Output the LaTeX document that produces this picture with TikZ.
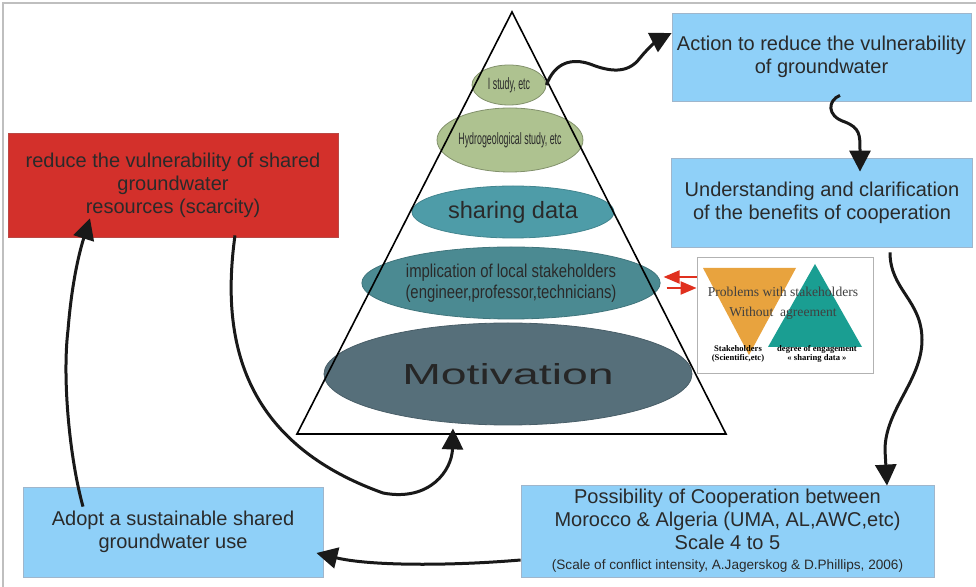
\documentclass[tikz,border=0pt]{standalone}
\usepackage{fontspec}
\setmainfont{Liberation Sans}
\newfontfamily\narrowsf{Liberation Sans}[FakeStretch=0.54]
\newfontfamily\semisf{Liberation Sans}[FakeStretch=0.8]
\newfontfamily\widesf{Liberation Sans}[FakeStretch=1.6]
\newfontfamily\timesf{Liberation Serif}
\usetikzlibrary{shapes.geometric,arrows.meta}
\definecolor{boxblue}{HTML}{8FD0F8}
\definecolor{boxedge}{HTML}{9FB6CC}
\definecolor{scarred}{HTML}{D3302B}
\definecolor{layergreen}{HTML}{AEC290}
\definecolor{layerteal}{HTML}{4E9CA8}
\definecolor{layerdeep}{HTML}{4B8A92}
\definecolor{layerslate}{HTML}{566F7A}
\definecolor{trorange}{HTML}{E8A33E}
\definecolor{trteal}{HTML}{1A9E92}
\definecolor{inkgray}{HTML}{2A2A2A}
\definecolor{arrowred}{HTML}{E0301E}
\begin{document}
\begin{tikzpicture}
    [x=0.5pt,y=-0.5pt,
    box/.style={draw=boxedge,fill=boxblue,inner sep=0pt,align=center,
      text=inkgray,font=\fontsize{10}{11.5}\selectfont},
    layer/.style={ellipse,inner sep=0pt,align=center,text=inkgray},
    flow/.style={line width=1.5pt,draw=black!90,
      -{Triangle[length=10.5pt,width=10.5pt]}},
    link/.style={line width=1pt,draw=arrowred,
      -{Triangle[length=8pt,width=6.5pt]}}]
    \useasboundingbox (0,0) rectangle (976,587);
    \draw[black!25,line width=0.8pt] (3,587) -- (3,3) -- (976,3);
    % pyramid layers
    \node[layer,fill=layergreen,draw=layergreen!75!black,minimum width=37pt,minimum height=20pt,
      font=\narrowsf\fontsize{8.2}{9}\selectfont] (study) at (509,85) {I study, etc};
    \node[layer,fill=layergreen,draw=layergreen!75!black,minimum width=66pt,minimum height=32pt,
      font=\narrowsf\fontsize{8.2}{9}\selectfont] (hydro) at (510,140) {Hydrogeological study, etc};
    \node[layer,fill=layerteal,draw=layerteal!85!black,minimum width=101pt,minimum height=26pt,
      font=\fontsize{11.8}{13}\selectfont] (sharing) at (513,212) {sharing data};
    \node[layer,fill=layerdeep,draw=layerdeep!85!black,minimum width=138pt,minimum height=36pt,
      font=\semisf\fontsize{9.3}{10.5}\selectfont] (locals) at (511,283)
      {implication of local stakeholders\\(engineer,professor,technicians)};
    \node[layer,fill=layerslate,draw=layerslate!85!black,minimum width=184pt,minimum height=51pt,
      font=\widesf\fontsize{14.5}{16}\selectfont,text=black!85] (motiv) at (508,374) {Motivation};
    \coordinate (apex) at (512,12);
    \coordinate (baseL) at (297,434);
    \coordinate (baseR) at (726,434);
    \draw[line width=0.8pt] (apex) -- (baseR) -- (baseL) -- cycle;
    % boxes
    \node[box,minimum width=149.5pt,minimum height=44pt] (action) at (821.5,57)
      {Action to reduce the vulnerability\\of groundwater};
    \node[box,minimum width=150.5pt,minimum height=44.5pt] (underst) at (822,202.5)
      {Understanding and clarification\\of the benefits of cooperation};
    \node[box,fill=scarred,draw=scarred!70!gray,minimum width=165pt,minimum height=52pt] (scarce) at (173,185)
      {reduce the vulnerability of shared\\groundwater\\resources (scarcity)};
    \node[box,minimum width=150pt,minimum height=45pt] (adopt) at (173,532)
      {Adopt a sustainable shared\\groundwater use};
    \node[box,minimum width=206.5pt,minimum height=46pt] (possib) at (727.5,531)
      {Possibility of Cooperation between\\Morocco \& Algeria (UMA, AL,AWC,etc)\\Scale 4 to 5\\[-1.5pt]
      {\fontsize{6.8}{8}\selectfont(Scale of conflict intensity, A.Jagerskog \& D.Phillips, 2006)}};
    % stakeholder inset
    \node[draw=black!30,fill=white,minimum width=88pt,minimum height=58pt] (inset) at (785,315) {};
    \fill[trorange] (703,268) -- (796,268) -- (749,355) -- cycle;
    \fill[trteal] (815,264) -- (862,347) -- (768,347) -- cycle;
    \node[font=\timesf\fontsize{6.8}{10}\selectfont,text=black!75,align=center] (problem) at (783,303)
      {Problems with stakeholders\\Without\ \ agreement};
    \node[font=\timesf\bfseries\fontsize{4.3}{4.8}\selectfont,align=center] (stake) at (738,354)
      {Stakeholders\\(Scientific,etc)};
    \node[font=\timesf\bfseries\fontsize{4.3}{4.8}\selectfont,align=center] (engage) at (817,354)
      {degree of engagement\\« sharing data »};
    \draw[link] ([yshift=19pt]inset.west) -- ([shift={(1.5pt,3pt)}]locals.east);
    \draw[link] ([shift={(3pt,-2.5pt)}]locals.east) -- ([yshift=13.5pt]inset.west);
    % flow arrows
    \draw[flow] (study.east) .. controls (555,62) and (572,58) .. (590,64)
      .. controls (610,72) and (628,74) .. (640,58)
      .. controls (648,48) and (658,40) .. ([yshift=12pt]action.west);
    \draw[flow] ([shift={(9.25pt,3pt)}]action.south) .. controls (828,100) and (826,116) .. (845,122)
      .. controls (860,128) and (860,135) .. (860,150) -- ([shift={(19pt,-7pt)}]underst.north);
    \draw[flow] ([shift={(34pt,-2.5pt)}]underst.south) .. controls (890,290) and (922,300) .. (922,340)
      .. controls (922,380) and (885,410) .. (885,450) -- ([shift={(79.75pt,-0.5pt)}]possib.north);
    \draw[flow] ([yshift=-14.5pt]possib.west) .. controls (450,566) and (370,566) .. ([shift={(-3.5pt,-10.5pt)}]adopt.east);
    \draw[flow] ([shift={(-45pt,-10pt)}]adopt.north) .. controls (70,460) and (62,380) .. (68,330)
      .. controls (72,280) and (80,250) .. ([shift={(-41.5pt,9.5pt)}]scarce.south);
    \draw[flow] ([shift={(31pt,1pt)}]scarce.south) .. controls (222,330) and (235,440) .. (383,493)
      .. controls (430,502) and (452,470) .. ([shift={(-27.5pt,-1.5pt)}]motiv.south);
\end{tikzpicture}
\end{document}
